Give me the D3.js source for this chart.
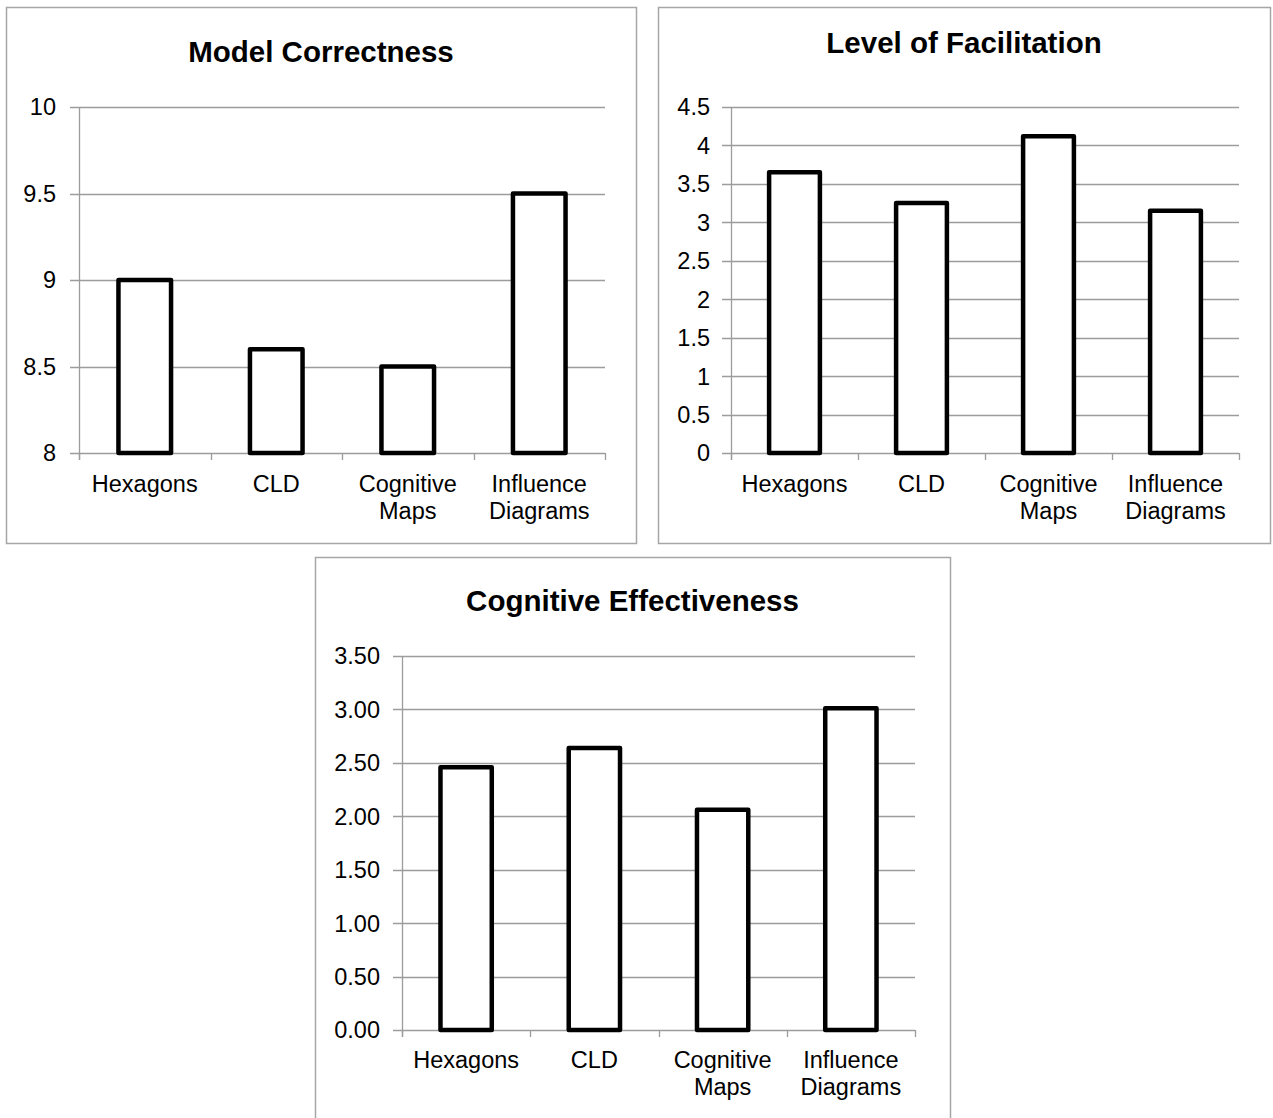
<!DOCTYPE html>
<html>
<head>
<meta charset="utf-8">
<script src="https://cdn.jsdelivr.net/npm/d3@7"></script>
<style>
  html, body { margin: 0; padding: 0; background: #fff; }
  svg { display: block; }
  text { font-family: "Liberation Sans", Arial, sans-serif; fill: #000; }
</style>
</head>
<body>
<svg id="chart" width="1273" height="1118"></svg>
<script>
// ---- data ----
const categories = ["Hexagons", "CLD", "Cognitive Maps", "Influence Diagrams"];
const categoryLines = [["Hexagons"], ["CLD"], ["Cognitive", "Maps"], ["Influence", "Diagrams"]];

const correctnessTitle = "Model Correctness";
const correctnessValues = [9.0, 8.6, 8.5, 9.5];
const correctnessTicks = [8, 8.5, 9, 9.5, 10];
const correctnessTickLabels = ["8", "8.5", "9", "9.5", "10"];

const facilitationTitle = "Level of Facilitation";
const facilitationValues = [3.65, 3.25, 4.12, 3.15];
const facilitationTicks = [0, 0.5, 1, 1.5, 2, 2.5, 3, 3.5, 4, 4.5];
const facilitationTickLabels = ["0", "0.5", "1", "1.5", "2", "2.5", "3", "3.5", "4", "4.5"];

const effectivenessTitle = "Cognitive Effectiveness";
const effectivenessValues = [2.46, 2.64, 2.06, 3.01];
const effectivenessTicks = [0, 0.5, 1, 1.5, 2, 2.5, 3, 3.5];
const effectivenessTickLabels = ["0.00", "0.50", "1.00", "1.50", "2.00", "2.50", "3.00", "3.50"];

// ---- drawing ----
const svg = d3.select("#chart");
const gridColor = "#9c9c9c";

function drawChart(opt) {
  const g = svg.append("g");
  // outer box
  g.append("rect")
    .attr("x", opt.box[0] + 0.5).attr("y", opt.box[1] + 0.5)
    .attr("width", opt.box[2] - opt.box[0]).attr("height", opt.box[3] - opt.box[1])
    .attr("fill", "#fff").attr("stroke", "#a6a6a6").attr("stroke-width", 1.5);

  // title
  g.append("text")
    .attr("x", (opt.box[0] + opt.box[2]) / 2)
    .attr("y", opt.titleY)
    .attr("text-anchor", "middle")
    .attr("font-weight", "bold")
    .attr("font-size", "29.5px")
    .text(opt.title);

  const x = d3.scaleBand().domain(categories).range([opt.plot[0], opt.plot[2]]).paddingInner(0).paddingOuter(0);
  const y = d3.scaleLinear().domain(opt.domain).range([opt.plot[3], opt.plot[1]]);

  // gridlines
  g.append("g").selectAll("line").data(opt.ticks).join("line")
    .attr("x1", opt.plot[0] - 9).attr("x2", opt.plot[2])
    .attr("y1", d => Math.round(y(d)) + 0.5).attr("y2", d => Math.round(y(d)) + 0.5)
    .attr("stroke", gridColor).attr("stroke-width", 1.3);

  // y axis line
  g.append("line")
    .attr("x1", opt.plot[0] + 0.5).attr("x2", opt.plot[0] + 0.5)
    .attr("y1", opt.plot[1]).attr("y2", opt.plot[3] + 7)
    .attr("stroke", gridColor).attr("stroke-width", 1.3);

  // x axis ticks (category boundaries)
  const bounds = categories.map(c => x(c)).concat([opt.plot[2]]);
  g.append("g").selectAll("line").data(bounds).join("line")
    .attr("x1", d => Math.round(d) + 0.5).attr("x2", d => Math.round(d) + 0.5)
    .attr("y1", Math.round(y(opt.domain[0]))).attr("y2", Math.round(y(opt.domain[0])) + 7)
    .attr("stroke", gridColor).attr("stroke-width", 1.3);

  // y tick labels
  g.append("g").selectAll("text").data(opt.ticks).join("text")
    .attr("x", opt.plot[0] - opt.labelGap)
    .attr("y", d => y(d))
    .attr("dy", "0.36em")
    .attr("text-anchor", "end")
    .attr("font-size", "23.5px")
    .text((d, i) => opt.tickLabels[i]);

  // bars
  const bw = x.bandwidth() * 0.4;
  g.append("g").selectAll("rect").data(opt.values).join("rect")
    .attr("x", (d, i) => x(categories[i]) + (x.bandwidth() - bw) / 2)
    .attr("y", d => y(d))
    .attr("width", bw)
    .attr("height", d => y(opt.domain[0]) - y(d))
    .attr("fill", "#fff")
    .attr("stroke", "#000")
    .attr("stroke-width", 4.5)
    .attr("stroke-linejoin", "round");

  // x labels
  const lab = g.append("g").selectAll("text").data(categoryLines).join("text")
    .attr("x", (d, i) => x(categories[i]) + x.bandwidth() / 2)
    .attr("y", y(opt.domain[0]) + opt.xLabelOffset)
    .attr("text-anchor", "middle")
    .attr("font-size", "23.5px");
  lab.selectAll("tspan").data(d => d).join("tspan")
    .attr("x", function () { return d3.select(this.parentNode).attr("x"); })
    .attr("dy", (d, i) => i === 0 ? 0 : 26.5)
    .text(d => d);
}

drawChart({
  box: [6, 7, 636, 543],
  plot: [79, 107, 605, 453],
  domain: [8, 10],
  ticks: correctnessTicks,
  tickLabels: correctnessTickLabels,
  values: correctnessValues,
  title: correctnessTitle,
  titleY: 62,
  labelGap: 23,
  xLabelOffset: 39
});

drawChart({
  box: [658, 7, 1270, 543],
  plot: [731, 107, 1239, 453],
  domain: [0, 4.5],
  ticks: facilitationTicks,
  tickLabels: facilitationTickLabels,
  values: facilitationValues,
  title: facilitationTitle,
  titleY: 53,
  labelGap: 21,
  xLabelOffset: 39
});

drawChart({
  box: [315, 557, 950, 1125],
  plot: [402, 656, 915, 1030],
  domain: [0, 3.5],
  ticks: effectivenessTicks,
  tickLabels: effectivenessTickLabels,
  values: effectivenessValues,
  title: effectivenessTitle,
  titleY: 611,
  labelGap: 22,
  xLabelOffset: 38
});
</script>
</body>
</html>
